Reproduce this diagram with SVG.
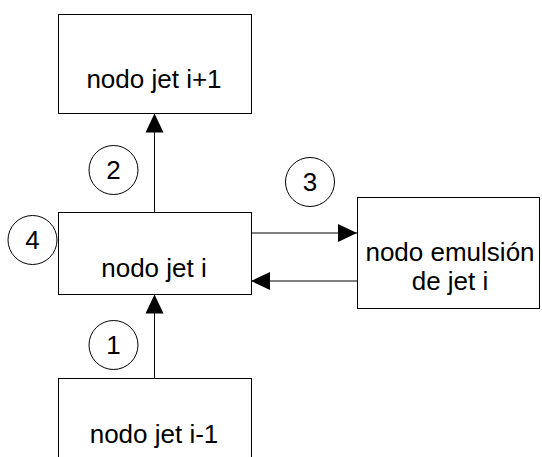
<svg xmlns="http://www.w3.org/2000/svg" width="542" height="457" viewBox="0 0 542 457">
<style>
.box{fill:#fff;stroke:#000;stroke-width:1}
.lbl{font-family:"Liberation Sans",Arial,sans-serif;font-size:26px;fill:#000;text-anchor:middle}
.circ{fill:#fff;stroke:#000;stroke-width:1}
.edge{stroke:#000;stroke-width:1;fill:none}
</style>
<defs>
<marker id="ah" markerUnits="userSpaceOnUse" markerWidth="20" markerHeight="20" viewBox="0 0 20 20" refX="19" refY="10" orient="auto">
<path d="M0,1 L19,10 L0,19 Z" fill="#000"/>
</marker>
</defs>
<rect width="542" height="457" fill="#fff"/>
<g id="connectors">
<line class="edge" x1="154.5" y1="212" x2="154.5" y2="113.5" marker-end="url(#ah)"/>
<line class="edge" x1="154.5" y1="378" x2="154.5" y2="294.5" marker-end="url(#ah)"/>
<line class="edge" x1="251" y1="233" x2="357" y2="233" marker-end="url(#ah)"/>
<line class="edge" x1="357" y1="281" x2="251" y2="281" marker-end="url(#ah)"/>
</g>
<g id="node-top">
<rect class="box" x="58.5" y="14.5" width="193" height="99"/>
<text class="lbl" x="154" y="88">nodo jet i+1</text>
</g>
<g id="node-mid">
<rect class="box" x="58.5" y="212.5" width="193" height="82"/>
<text class="lbl" x="154" y="277">nodo jet i</text>
</g>
<g id="node-bot">
<rect class="box" x="58.5" y="378.5" width="193" height="90"/>
<text class="lbl" x="154" y="443">nodo jet i-1</text>
</g>
<g id="node-emul">
<rect class="box" x="357.5" y="197.5" width="182" height="111"/>
<text class="lbl" x="450" y="261">nodo emulsión</text>
<text class="lbl" x="450" y="290">de jet i</text>
</g>
<g id="circle-1">
<circle class="circ" cx="113.5" cy="345" r="24.5"/>
<text class="lbl" x="113.5" y="354">1</text>
</g>
<g id="circle-2">
<circle class="circ" cx="113.5" cy="170" r="24.5"/>
<text class="lbl" x="113.5" y="179">2</text>
</g>
<g id="circle-3">
<circle class="circ" cx="310" cy="182" r="24.5"/>
<text class="lbl" x="310" y="191">3</text>
</g>
<g id="circle-4">
<circle class="circ" cx="32.5" cy="240" r="24.5"/>
<text class="lbl" x="32.5" y="249">4</text>
</g>
</svg>
